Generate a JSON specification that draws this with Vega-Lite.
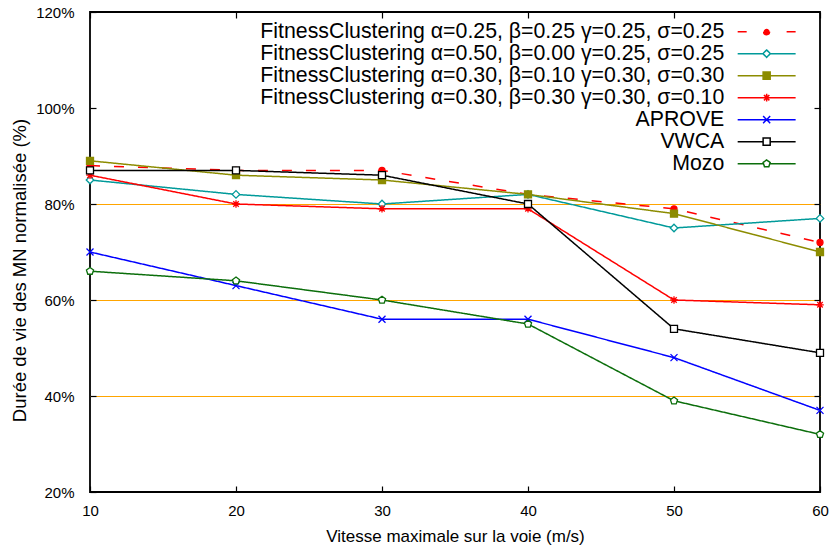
{
  "$schema": "https://vega.github.io/schema/vega-lite/v6.json",
  "width": 730,
  "height": 480,
  "autosize": {"type": "none"},
  "padding": {"left": 90, "top": 12, "right": 13, "bottom": 58},
  "config": {
    "view": {"stroke": "#000000", "strokeWidth": 1.8},
    "font": "Liberation Sans",
    "axis": {
      "labelFont": "Liberation Sans", "labelFontSize": 15, "labelColor": "#000000",
      "titleFont": "Liberation Sans", "titleFontWeight": "normal", "titleColor": "#000000",
      "tickColor": "#000000", "tickWidth": 1.2, "tickSize": -6, "domain": false, "grid": false
    }
  },
  "data": {"values": [
    {"series": "FitnessClustering α=0.25, β=0.25 γ=0.25, σ=0.25", "id": "FC1", "speed": 10, "value": 88},
    {"series": "FitnessClustering α=0.25, β=0.25 γ=0.25, σ=0.25", "id": "FC1", "speed": 20, "value": 87},
    {"series": "FitnessClustering α=0.25, β=0.25 γ=0.25, σ=0.25", "id": "FC1", "speed": 30, "value": 87},
    {"series": "FitnessClustering α=0.25, β=0.25 γ=0.25, σ=0.25", "id": "FC1", "speed": 40, "value": 82},
    {"series": "FitnessClustering α=0.25, β=0.25 γ=0.25, σ=0.25", "id": "FC1", "speed": 50, "value": 79},
    {"series": "FitnessClustering α=0.25, β=0.25 γ=0.25, σ=0.25", "id": "FC1", "speed": 60, "value": 72},
    {"series": "FitnessClustering α=0.50, β=0.00 γ=0.25, σ=0.25", "id": "FC2", "speed": 10, "value": 85},
    {"series": "FitnessClustering α=0.50, β=0.00 γ=0.25, σ=0.25", "id": "FC2", "speed": 20, "value": 82},
    {"series": "FitnessClustering α=0.50, β=0.00 γ=0.25, σ=0.25", "id": "FC2", "speed": 30, "value": 80},
    {"series": "FitnessClustering α=0.50, β=0.00 γ=0.25, σ=0.25", "id": "FC2", "speed": 40, "value": 82},
    {"series": "FitnessClustering α=0.50, β=0.00 γ=0.25, σ=0.25", "id": "FC2", "speed": 50, "value": 75},
    {"series": "FitnessClustering α=0.50, β=0.00 γ=0.25, σ=0.25", "id": "FC2", "speed": 60, "value": 77},
    {"series": "FitnessClustering α=0.30, β=0.10 γ=0.30, σ=0.30", "id": "FC3", "speed": 10, "value": 89},
    {"series": "FitnessClustering α=0.30, β=0.10 γ=0.30, σ=0.30", "id": "FC3", "speed": 20, "value": 86},
    {"series": "FitnessClustering α=0.30, β=0.10 γ=0.30, σ=0.30", "id": "FC3", "speed": 30, "value": 85},
    {"series": "FitnessClustering α=0.30, β=0.10 γ=0.30, σ=0.30", "id": "FC3", "speed": 40, "value": 82},
    {"series": "FitnessClustering α=0.30, β=0.10 γ=0.30, σ=0.30", "id": "FC3", "speed": 50, "value": 78},
    {"series": "FitnessClustering α=0.30, β=0.10 γ=0.30, σ=0.30", "id": "FC3", "speed": 60, "value": 70},
    {"series": "FitnessClustering α=0.30, β=0.30 γ=0.30, σ=0.10", "id": "FC4", "speed": 10, "value": 86},
    {"series": "FitnessClustering α=0.30, β=0.30 γ=0.30, σ=0.10", "id": "FC4", "speed": 20, "value": 80},
    {"series": "FitnessClustering α=0.30, β=0.30 γ=0.30, σ=0.10", "id": "FC4", "speed": 30, "value": 79},
    {"series": "FitnessClustering α=0.30, β=0.30 γ=0.30, σ=0.10", "id": "FC4", "speed": 40, "value": 79},
    {"series": "FitnessClustering α=0.30, β=0.30 γ=0.30, σ=0.10", "id": "FC4", "speed": 50, "value": 60},
    {"series": "FitnessClustering α=0.30, β=0.30 γ=0.30, σ=0.10", "id": "FC4", "speed": 60, "value": 59},
    {"series": "APROVE", "id": "APROVE", "speed": 10, "value": 70},
    {"series": "APROVE", "id": "APROVE", "speed": 20, "value": 63},
    {"series": "APROVE", "id": "APROVE", "speed": 30, "value": 56},
    {"series": "APROVE", "id": "APROVE", "speed": 40, "value": 56},
    {"series": "APROVE", "id": "APROVE", "speed": 50, "value": 48},
    {"series": "APROVE", "id": "APROVE", "speed": 60, "value": 37},
    {"series": "VWCA", "id": "VWCA", "speed": 10, "value": 87},
    {"series": "VWCA", "id": "VWCA", "speed": 20, "value": 87},
    {"series": "VWCA", "id": "VWCA", "speed": 30, "value": 86},
    {"series": "VWCA", "id": "VWCA", "speed": 40, "value": 80},
    {"series": "VWCA", "id": "VWCA", "speed": 50, "value": 54},
    {"series": "VWCA", "id": "VWCA", "speed": 60, "value": 49},
    {"series": "Mozo", "id": "Mozo", "speed": 10, "value": 66},
    {"series": "Mozo", "id": "Mozo", "speed": 20, "value": 64},
    {"series": "Mozo", "id": "Mozo", "speed": 30, "value": 60},
    {"series": "Mozo", "id": "Mozo", "speed": 40, "value": 55},
    {"series": "Mozo", "id": "Mozo", "speed": 50, "value": 39},
    {"series": "Mozo", "id": "Mozo", "speed": 60, "value": 32}
  ]},
  "resolve": {"axis": {"x": "independent", "y": "independent"}},
  "layer": [
    {
      "mark": {"type": "line", "strokeWidth": 1.5},
      "encoding": {
        "x": {"field": "speed", "type": "quantitative",
              "scale": {"domain": [10, 60], "nice": false, "zero": false},
              "axis": {"orient": "bottom", "values": [10, 20, 30, 40, 50, 60], "title": "Vitesse maximale sur la voie (m/s)",
                       "titleFontSize": 17, "labelPadding": 17, "titlePadding": 10, "labelFlush": false}},
        "y": {"field": "value", "type": "quantitative",
              "scale": {"domain": [20, 120], "nice": false, "zero": false},
              "axis": {"orient": "left", "values": [20, 40, 60, 80, 100, 120], "labelExpr": "datum.value + '%'",
                       "title": "Durée de vie des MN normalisée (%)", "titleFontSize": 18.5, "labelPadding": 22, "titlePadding": 6, "titleY": 258}},
        "stroke": {"field": "series", "type": "nominal",
                   "scale": {"domain": [
                     "FitnessClustering α=0.25, β=0.25 γ=0.25, σ=0.25",
                     "FitnessClustering α=0.50, β=0.00 γ=0.25, σ=0.25",
                     "FitnessClustering α=0.30, β=0.10 γ=0.30, σ=0.30",
                     "FitnessClustering α=0.30, β=0.30 γ=0.30, σ=0.10",
                     "APROVE", "VWCA", "Mozo"],
                     "range": ["#ff0000", "#009a9a", "#8c8c00", "#ff0000", "#0000ff", "#000000", "#0b6e0b"]},
                   "legend": {
                     "title": null, "orient": "top-right", "offset": 7,
                     "labelFont": "Liberation Sans", "labelFontSize": 21.3, "labelColor": "#000000",
                     "labelAlign": "right", "labelOffset": -53, "labelLimit": 700,
                     "symbolType": "stroke", "symbolSize": 328, "symbolStrokeWidth": 1.5,
                     "rowPadding": 0, "padding": 2,
                     "encode": {"symbols": {"update": {
                       "shape": {"signal": "['M-3.2,0H-0.33M3.2,0H0.33M-0.33,0A0.33,0.33,0,1,0,0.33,0A0.33,0.33,0,1,0,-0.33,0ZM4.53,0', 'M-3.2,0H-0.41M0.41,0H3.2M0,-0.41L0.41,0L0,0.41L-0.41,0ZM4.53,0', 'M-3.2,0H-0.39M0.39,0H3.2M-0.39,-0.39H0.39V0.39H-0.39ZM4.53,0', 'M-3.2,0H3.2M0,-0.42V0.42M-0.3,-0.3L0.3,0.3M-0.3,0.3L0.3,-0.3M4.53,0', 'M-3.2,0H3.2M-0.39,-0.39L0.39,0.39M-0.39,0.39L0.39,-0.39M4.53,0', 'M-3.2,0H-0.39M0.39,0H3.2M-0.39,-0.39H0.39V0.39H-0.39ZM4.53,0', 'M-3.2,0H-0.37M0.37,0H3.2M0,-0.41L0.39,-0.127L0.241,0.332L-0.241,0.332L-0.39,-0.127ZM4.53,0'][datum.index]"},
                       "fill": {"signal": "['#ff0000', '#ffffff', '#8c8c00', '#ffffff', '#ffffff', '#ffffff', '#ffffff'][datum.index]"},
                       "strokeDash": {"signal": "datum.index === 0 ? [9, 20] : [1, 0]"},
                       "strokeWidth": {"value": 1.5},
                       "opacity": {"value": 1}
                     }}}
                   }},
        "strokeDash": {"field": "id", "type": "nominal",
                       "scale": {"domain": ["FC1", "FC2", "FC3", "FC4", "APROVE", "VWCA", "Mozo"],
                         "range": [[10, 14], [1, 0], [1, 0], [1, 0], [1, 0], [1, 0], [1, 0]]},
                       "legend": null}
      }
    },
    {
      "mark": {"type": "point", "size": 100, "strokeWidth": 1.3, "opacity": 1},
      "encoding": {
        "x": {"field": "speed", "type": "quantitative",
              "axis": {"orient": "top", "values": [10, 20, 30, 40, 50, 60], "labels": false, "title": null}},
        "y": {"field": "value", "type": "quantitative",
              "axis": {"orient": "right", "values": [40, 60, 80, 100], "labels": false, "title": null,
                       "grid": true, "gridWidth": 1, "gridOpacity": 1,
                       "gridColor": {"condition": {"test": "datum.value === 100", "value": "transparent"}, "value": "#ffa500"}}},
        "stroke": {"field": "series", "type": "nominal"},
        "fill": {"field": "id", "type": "nominal",
                 "scale": {"domain": ["FC1", "FC2", "FC3", "FC4", "APROVE", "VWCA", "Mozo"],
                   "range": ["#ff0000", "#ffffff", "#8c8c00", "#ffffff", "#ffffff", "#ffffff", "#ffffff"]},
                 "legend": null},
        "shape": {"field": "id", "type": "nominal",
                  "scale": {"domain": ["FC1", "FC2", "FC3", "FC4", "APROVE", "VWCA", "Mozo"],
                    "range": [
                      "M-0.6,0A0.6,0.6,0,1,0,0.6,0A0.6,0.6,0,1,0,-0.6,0Z",
                      "M0,-0.75L0.75,0L0,0.75L-0.75,0Z",
                      "M-0.7,-0.7H0.7V0.7H-0.7Z",
                      "M-0.75,0H0.75M0,-0.75V0.75M-0.55,-0.55L0.55,0.55M-0.55,0.55L0.55,-0.55",
                      "M-0.7,-0.7L0.7,0.7M-0.7,0.7L0.7,-0.7",
                      "M-0.7,-0.7H0.7V0.7H-0.7Z",
                      "M0,-0.75L0.713,-0.232L0.441,0.607L-0.441,0.607L-0.713,-0.232Z"]},
                  "legend": null}
      }
    }
  ]
}
